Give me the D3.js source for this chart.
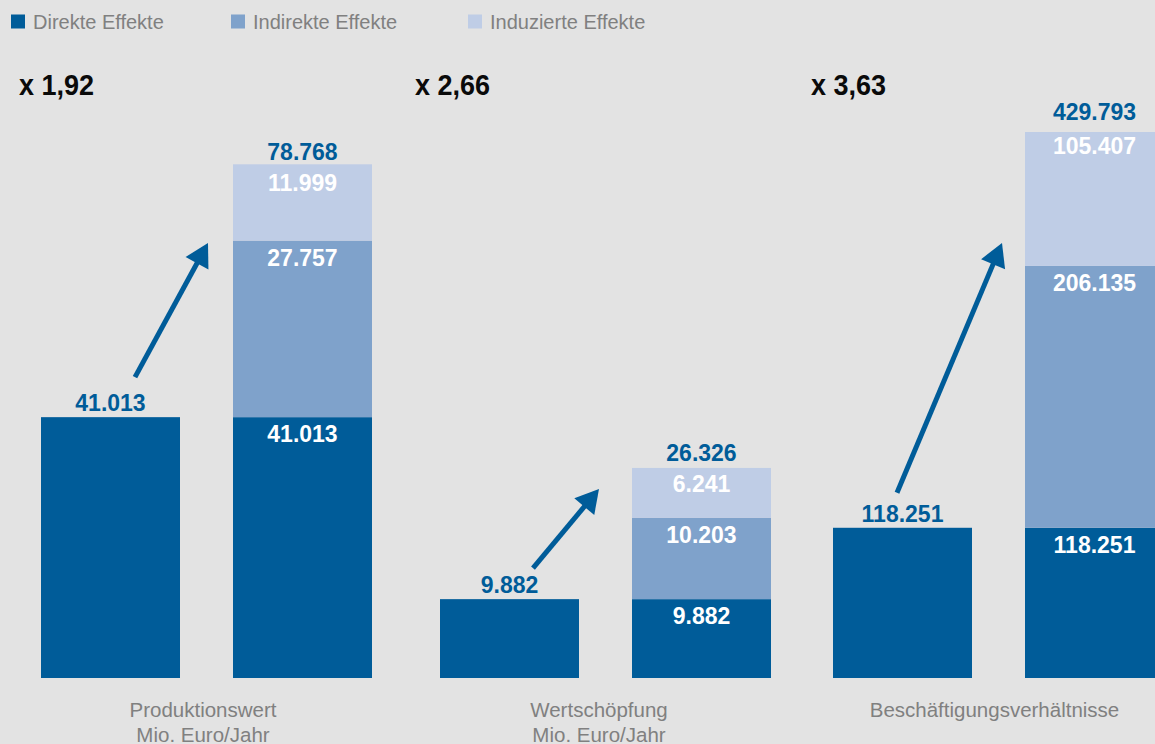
<!DOCTYPE html>
<html lang="de">
<head>
<meta charset="utf-8">
<script src="https://cdn.jsdelivr.net/npm/d3@7/dist/d3.min.js"></script>
<style>
  html, body { margin: 0; padding: 0; background: #e3e3e3; overflow: hidden; }
  svg { display: block; }
</style>
</head>
<body>
<div id="chart"></div>
<script>
// Kennzahlen je Bereich
const categories   = ["Produktionswert", "Wertschöpfung", "Beschäftigungsverhältnisse"];
const unitLines    = ["Mio. Euro/Jahr", "Mio. Euro/Jahr", ""];
const multipliers  = ["x 1,92", "x 2,66", "x 3,63"];
const seriesNames  = ["Direkte Effekte", "Indirekte Effekte", "Induzierte Effekte"];
const directValues   = [41013, 9882, 118251];
const indirectValues = [27757, 10203, 206135];
const inducedValues  = [11999, 6241, 105407];
const totalValues    = [78768, 26326, 429793];
// jeder Bereich hat seine eigene Werteachse
const axisMax        = [94340, 75190, 472300];

const W = 1155, H = 744;
const baseline = 678, plotTop = 78;
const colors = ["#005c99", "#7fa2cb", "#bfcde6"];
const blue = "#005c99";
const grey = "#808080";
const FONT = "'Liberation Sans', Arial, Helvetica, sans-serif";

const de = d3.formatLocale({ decimal: ",", thousands: ".", grouping: [3], currency: ["", " €"] });
const fmt = de.format(",d");

const svg = d3.select("#chart").append("svg")
  .attr("width", W).attr("height", H)
  .style("font-family", FONT);

svg.append("rect").attr("width", W).attr("height", H).attr("fill", "#e3e3e3");

// Legende
const legendX = [11, 231, 468];
const legend = svg.append("g").selectAll("g")
  .data(seriesNames).join("g")
  .attr("transform", (d, i) => `translate(${legendX[i]},0)`);
legend.append("rect")
  .attr("x", 0).attr("y", 14.5).attr("width", 14).attr("height", 14)
  .attr("fill", (d, i) => colors[i]);
legend.append("text")
  .attr("x", 22).attr("y", 28.7)
  .attr("font-size", 20).attr("fill", grey)
  .text(d => d);

// Bereiche nebeneinander
const panelX = d3.scaleOrdinal().domain(categories).range([41, 440, 833]);
const barX = d3.scaleBand().domain(["vorher", "gesamt"]).range([0, 331]).paddingInner(53 / 192).paddingOuter(0);

// Feinlage der Beschriftungen je Bereich
const multDx = [-22, -25, -22];
const labelCx = [162, 159, 161.5];
// Pfeile: Fuß über dem Einzelbalken, Spitze links vom Stapel
const arrowGeom = [
  { tailDx: 24.5, tailDy: -40, tipDx: -25, tipRise: 435 },
  { tailDx: 23.5, tailDy: -31, tipDx: -33, tipRise: 189 },
  { tailDx: -5.5, tailDy: -35, tipDx: -23, tipRise: 435 }
];
const totalLift = [4.5, 7, 12];
const inducedDrop = [27, 24, 22];

categories.forEach((cat, i) => {
  const x0 = panelX(cat);
  const g = svg.append("g").attr("transform", `translate(${x0},0)`);
  const y = d3.scaleLinear().domain([0, axisMax[i]]).range([baseline, plotTop]);
  const bw = barX.bandwidth();
  const xa = barX("vorher"), xb = barX("gesamt");

  // Multiplikator
  g.append("text")
    .attr("transform", `translate(${multDx[i]},94.5) scale(0.9,1)`)
    .attr("font-size", 30).attr("font-weight", "bold").attr("fill", "#0a0a0a")
    .text(multipliers[i]);

  // Einzelbalken: direkte Effekte
  g.append("rect")
    .attr("x", xa).attr("width", bw)
    .attr("y", y(directValues[i])).attr("height", baseline - y(directValues[i]))
    .attr("fill", colors[0]);
  g.append("text")
    .attr("x", xa + bw / 2).attr("y", y(directValues[i]) - 6)
    .attr("text-anchor", "middle").attr("font-size", 23).attr("font-weight", "bold")
    .attr("fill", blue)
    .text(fmt(directValues[i]));

  // Stapel: direkt + indirekt + induziert
  const segs = [directValues[i], indirectValues[i], inducedValues[i]];
  const stack = d3.stack().keys([0, 1, 2]).value((d, k) => d[k])([segs]);
  stack.forEach((s, k) => {
    const [lo, hi] = s[0];
    g.append("rect")
      .attr("x", xb).attr("width", bw)
      .attr("y", y(hi)).attr("height", y(lo) - y(hi))
      .attr("fill", colors[k]);
    g.append("text")
      .attr("x", xb + bw / 2).attr("y", y(hi) + (k === 2 ? inducedDrop[i] : 25))
      .attr("text-anchor", "middle").attr("font-size", 23).attr("font-weight", "bold")
      .attr("fill", "#ffffff")
      .text(fmt(segs[k]));
  });
  const stackTop = y(d3.sum(segs));
  g.append("text")
    .attr("x", xb + bw / 2).attr("y", stackTop - totalLift[i])
    .attr("text-anchor", "middle").attr("font-size", 23).attr("font-weight", "bold")
    .attr("fill", blue)
    .text(fmt(totalValues[i]));

  // Pfeil
  const a = arrowGeom[i];
  const tail = [xa + bw / 2 + a.tailDx, y(directValues[i]) + a.tailDy];
  const tip = [xb + a.tipDx, baseline - a.tipRise];
  const dx = tip[0] - tail[0], dy = tip[1] - tail[1];
  const len = Math.hypot(dx, dy);
  const ux = dx / len, uy = dy / len;
  const headLen = 23, headHalf = 13;
  const base = [tip[0] - ux * headLen, tip[1] - uy * headLen];
  g.append("line")
    .attr("x1", tail[0]).attr("y1", tail[1])
    .attr("x2", base[0] + ux * 2).attr("y2", base[1] + uy * 2)
    .attr("stroke", blue).attr("stroke-width", 5);
  g.append("path")
    .attr("d", d3.line()([
      tip,
      [base[0] - uy * headHalf, base[1] + ux * headHalf],
      [base[0] + uy * headHalf, base[1] - ux * headHalf]
    ]) + "Z")
    .attr("fill", blue);

  // Bereichsbeschriftung
  const lab = g.append("text")
    .attr("text-anchor", "middle").attr("font-size", 20.5).attr("fill", grey);
  lab.append("tspan").attr("x", labelCx[i]).attr("y", 717).text(cat);
  if (unitLines[i]) lab.append("tspan").attr("x", labelCx[i]).attr("y", 742).text(unitLines[i]);
});
</script>
</body>
</html>
